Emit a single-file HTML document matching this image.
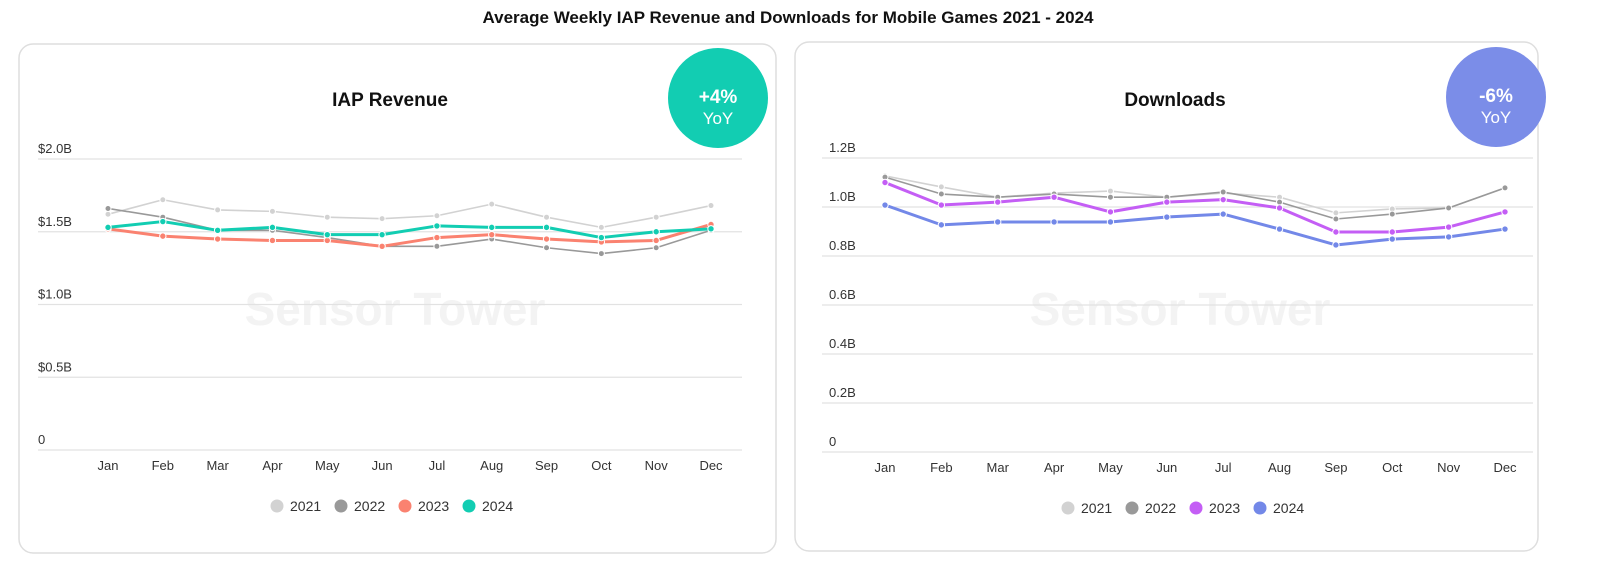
<!DOCTYPE html>
<html><head><meta charset="utf-8"><style>
html,body{margin:0;padding:0;background:#fff;overflow:hidden;width:1600px;height:578px;font-family:"Liberation Sans",sans-serif}
svg{display:block}
</style></head><body>
<svg id="chart" width="1600" height="578" viewBox="0 0 1600 578" font-family="Liberation Sans, sans-serif">
<text x="788" y="23" text-anchor="middle" font-size="17" font-weight="bold" fill="#111">Average Weekly IAP Revenue and Downloads  for Mobile Games  2021 - 2024</text>
<rect x="19" y="44" width="757" height="509" rx="14" fill="#fff" stroke="#dedede" stroke-width="1.5"/>
<rect x="795" y="42" width="743" height="509" rx="14" fill="#fff" stroke="#dedede" stroke-width="1.5"/>
<text x="395" y="325" text-anchor="middle" font-size="46" font-weight="bold" fill="#f3f3f3">Sensor Tower</text>
<text x="1180" y="325" text-anchor="middle" font-size="46" font-weight="bold" fill="#f3f3f3">Sensor Tower</text>
<text x="390" y="106" text-anchor="middle" font-size="19" font-weight="bold" fill="#111">IAP Revenue</text>
<text x="1175" y="106" text-anchor="middle" font-size="19" font-weight="bold" fill="#111">Downloads</text>
<g>
<circle cx="718" cy="98" r="50" fill="#12cdb2"/>
<text x="718" y="103" text-anchor="middle" font-size="19" font-weight="bold" fill="#fff">+4%</text>
<text x="718" y="124" text-anchor="middle" font-size="17" fill="#fff">YoY</text>
</g>
<g>
<circle cx="1496" cy="97" r="50" fill="#7b8de8"/>
<text x="1496" y="102" text-anchor="middle" font-size="19" font-weight="bold" fill="#fff">-6%</text>
<text x="1496" y="123" text-anchor="middle" font-size="17" fill="#fff">YoY</text>
</g>
<g id="left"></g><g id="right"></g>
</svg>
<script>
const months=["Jan","Feb","Mar","Apr","May","Jun","Jul","Aug","Sep","Oct","Nov","Dec"];
const years=["2021","2022","2023","2024"];
const revTicks=[0,0.5,1.0,1.5,2.0];
const revTickLabels=["0","$0.5B","$1.0B","$1.5B","$2.0B"];
const rev2021=[1.62,1.72,1.65,1.64,1.60,1.59,1.61,1.69,1.60,1.53,1.60,1.68];
const rev2022=[1.66,1.60,1.51,1.51,1.46,1.40,1.40,1.45,1.39,1.35,1.39,1.51];
const rev2023=[1.52,1.47,1.45,1.44,1.44,1.40,1.46,1.48,1.45,1.43,1.44,1.55];
const rev2024=[1.53,1.57,1.51,1.53,1.48,1.48,1.54,1.53,1.53,1.46,1.50,1.52];
const dlTicks=[0,0.2,0.4,0.6,0.8,1.0,1.2];
const dlTickLabels=["0","0.2B","0.4B","0.6B","0.8B","1.0B","1.2B"];
const dl2021=[1.127,1.082,1.04,1.057,1.065,1.04,1.057,1.04,0.976,0.992,0.996,1.078];
const dl2022=[1.122,1.053,1.04,1.053,1.04,1.04,1.061,1.02,0.951,0.971,0.996,1.078];
const dl2023=[1.10,1.008,1.02,1.04,0.98,1.02,1.03,0.996,0.898,0.898,0.918,0.98];
const dl2024=[1.008,0.927,0.939,0.939,0.939,0.959,0.971,0.91,0.845,0.869,0.878,0.91];

const NS="http://www.w3.org/2000/svg";
function mk(parent,tag,attrs,text){const e=document.createElementNS(NS,tag);for(const k in attrs)e.setAttribute(k,attrs[k]);if(text!==undefined)e.textContent=text;parent.appendChild(e);return e;}

function drawChart(g,cfg){
  const y=v=>cfg.y0-(v/cfg.max)*(cfg.y0-cfg.yTop);
  const x=i=>cfg.x0+i*(cfg.x1-cfg.x0)/(months.length-1);
  cfg.ticks.forEach((t,i)=>{
    const l=mk(g,"line",{x1:cfg.gx0,x2:cfg.gx1,y1:y(t),y2:y(t),stroke:"#e2e2e2","stroke-width":1.3});
    
    
    const tx=mk(g,"text",{x:cfg.lx,y:y(t)-6,"font-size":13,fill:"#333"},cfg.tickLabels[i]);
    
    
  });
  months.forEach((m,i)=>{
    const tx=mk(g,"text",{x:x(i),y:cfg.y0+20,"font-size":13,fill:"#333","text-anchor":"middle"},m);
    
    
  });
  cfg.series.forEach((s,si)=>{
    const sg=mk(g,"g",{});
    
    
    const pts=s.data.map((v,i)=>x(i)+","+y(v)).join(" ");
    mk(sg,"polyline",{points:pts,fill:"none",stroke:cfg.colors[si],"stroke-width":si>=2?3:1.6,"stroke-linejoin":"round"});
    s.data.forEach((v,i)=>{
      const c=mk(sg,"circle",{cx:x(i),cy:y(v),r:si>=2?3.2:3,fill:cfg.colors[si],stroke:"#fff","stroke-width":1});
      
      
    });
  });
  const lg=mk(g,"g",{});
  
  
  years.forEach((yr,i)=>{
    const ex=cfg.legX+i*64;
    const eg=mk(lg,"g",{});
    
    
    mk(eg,"circle",{cx:ex,cy:cfg.legY,r:6.5,fill:cfg.colors[i]});
    mk(eg,"text",{x:ex+13,y:cfg.legY+5,"font-size":14,fill:"#333"},yr);
  });
}
drawChart(document.getElementById("left"),{y0:450,yTop:159,max:2.0,x0:108,x1:711,gx0:38,gx1:742,lx:38,
  ticks:revTicks,tickLabels:revTickLabels,colors:["#d2d2d2","#999999","#fa8270","#12cdb2"],
  series:[{data:rev2021},{data:rev2022},{data:rev2023},{data:rev2024}],legX:277,legY:506});
drawChart(document.getElementById("right"),{y0:452,yTop:158,max:1.2,x0:885,x1:1505,gx0:822,gx1:1533,lx:829,
  ticks:dlTicks,tickLabels:dlTickLabels,colors:["#d2d2d2","#999999","#c45ef5","#7388e8"],
  series:[{data:dl2021},{data:dl2022},{data:dl2023},{data:dl2024}],legX:1068,legY:508});
</script>
</body></html>
